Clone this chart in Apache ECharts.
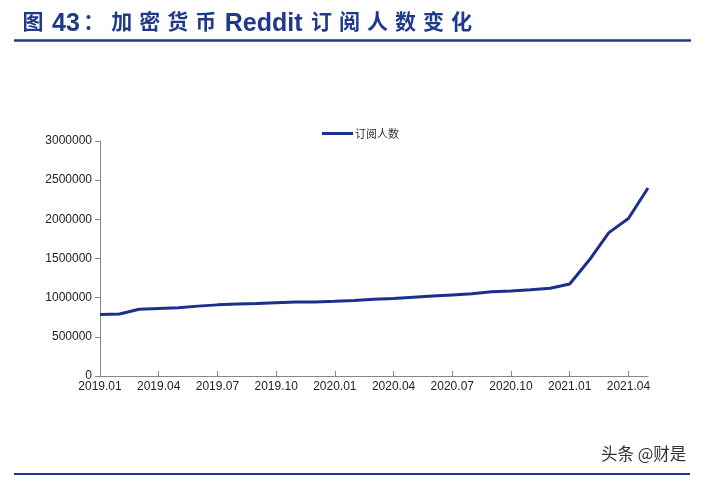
<!DOCTYPE html>
<html>
<head>
<meta charset="utf-8">
<script src="https://cdn.jsdelivr.net/npm/echarts@6/dist/echarts.min.js"></script>
<style>html,body{margin:0;padding:0;background:#fff;}#c{width:706px;height:478px;}</style>
</head>
<body>
<div id="c"></div>
<script>
const categories = ['2019.01','2019.02','2019.03','2019.04','2019.05','2019.06','2019.07','2019.08','2019.09','2019.10','2019.11','2019.12',
  '2020.01','2020.02','2020.03','2020.04','2020.05','2020.06','2020.07','2020.08','2020.09','2020.10','2020.11','2020.12',
  '2021.01','2021.02','2021.03','2021.04','2021.05'];
const subscribers = [785000,792000,852000,862000,872000,892000,908000,918000,926000,935000,944000,946000,
  955000,965000,980000,990000,1005000,1020000,1035000,1050000,1075000,1085000,1100000,1120000,
  1175000,1480000,1830000,2010000,2400000];
const yTicks = { min: 0, max: 3000000, interval: 500000 };
const titleText = '图 43：加密货币 Reddit 订阅人数变化';
const seriesName = '订阅人数';
const watermark = '头条 @财是';

// Build rich title: CJK chars spaced, Latin segments in Arial
function richTitle(t) {
  let out = '';
  let latin = '';
  const flush = () => { if (latin) { out += '{l|' + latin + '}'; latin = ''; } };
  for (const ch of t) {
    if (/[\u3000-\u9fff\uff00-\uffef]/.test(ch)) { flush(); out += '{c|' + ch + '}'; }
    else if (ch === ' ') { flush(); out += '{s|\u00a0}'; }
    else latin += ch;
  }
  flush();
  return out;
}

const chart = echarts.init(document.getElementById('c'));
chart.setOption({
  animation: false,
  backgroundColor: '#fff',
  title: {
    text: richTitle(titleText), left: 14, top: 6,
    textStyle: {
      rich: {
        c: { color: '#1F3A8C', fontSize: 21, fontWeight: 'bold', fontFamily: '"Noto Sans CJK SC", sans-serif', padding: [0, 3.5, 5, 3.5], lineHeight: 26, verticalAlign: 'middle' },
        l: { color: '#1F3A8C', fontSize: 25, fontWeight: 'bold', fontFamily: '"Liberation Sans", Arial, sans-serif', lineHeight: 26, verticalAlign: 'middle' },
        s: { fontSize: 10, width: 5, lineHeight: 26, verticalAlign: 'middle' }
      }
    }
  },
  legend: {
    top: 123, left: 317,
    data: [seriesName],
    itemWidth: 31, itemHeight: 3, itemGap: 4,
    icon: 'rect',
    textStyle: { fontSize: 11, color: '#333', fontFamily: '"Noto Sans CJK SC", sans-serif', padding: [0,0,0,-3] }
  },
  grid: { left: 100, right: 58, top: 141, bottom: 102 },
  xAxis: {
    type: 'category', data: categories, boundaryGap: false,
    axisLine: { lineStyle: { color: '#888', width: 1 } },
    axisTick: { inside: true, length: 5, interval: 2, lineStyle: { color: '#888' } },
    axisLabel: { interval: 2, color: '#222', fontSize: 12, fontFamily: '"Liberation Sans", Arial, sans-serif', margin: 5 }
  },
  yAxis: {
    type: 'value', min: yTicks.min, max: yTicks.max, interval: yTicks.interval,
    splitLine: { show: false },
    axisLine: { show: true, lineStyle: { color: '#888', width: 1 } },
    axisTick: { show: true, length: 5, lineStyle: { color: '#888' } },
    axisLabel: { color: '#222', fontSize: 12, fontFamily: '"Liberation Sans", Arial, sans-serif', margin: 8, formatter: v => String(v) }
  },
  series: [{
    name: seriesName, type: 'line', data: subscribers,
    showSymbol: false, symbol: 'none',
    lineStyle: { color: '#1B2F8F', width: 3 },
    itemStyle: { color: '#1B2F8F' }
  }],
  graphic: [
    { type: 'line', shape: { x1: 14, y1: 40.5, x2: 691, y2: 40.5 }, style: { stroke: '#1F3A8C', lineWidth: 2.5 } },
    { type: 'line', shape: { x1: 14, y1: 474, x2: 690, y2: 474 }, style: { stroke: '#1F3A8C', lineWidth: 2 } },
    { type: 'text', left: 601, top: 445, style: { text: watermark, fill: '#333', font: '16.5px "Noto Sans CJK SC", sans-serif' } }
  ]
});
</script>
</body>
</html>
